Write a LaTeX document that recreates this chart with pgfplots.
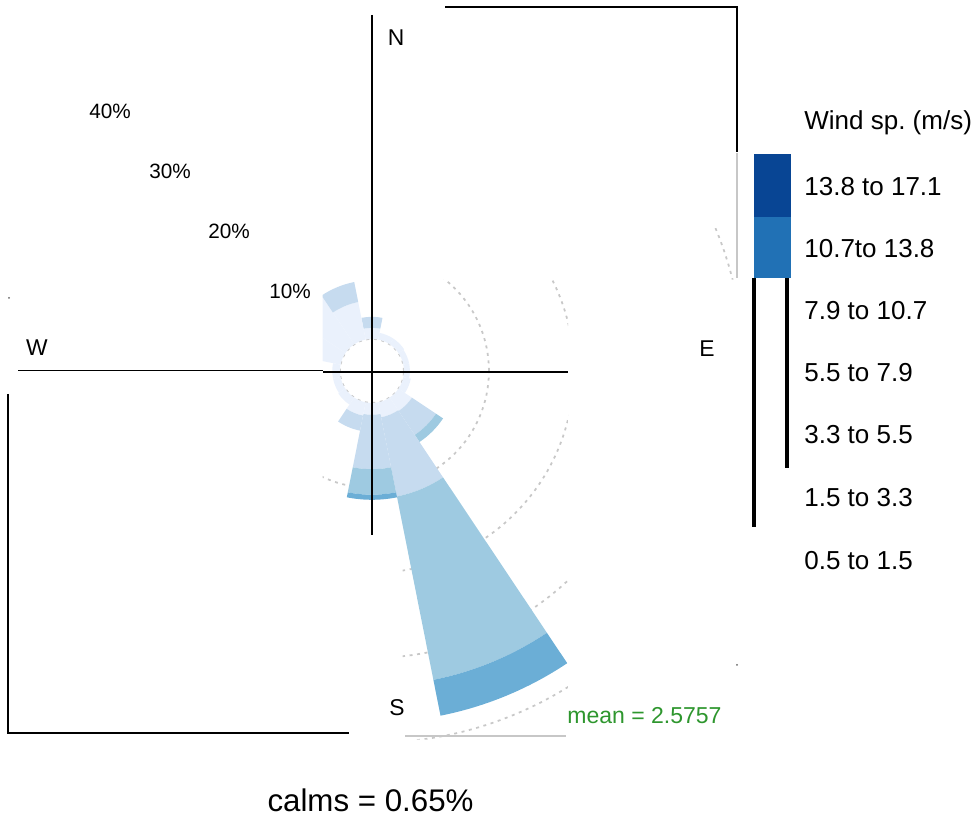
\documentclass[border=0pt]{standalone}
\usepackage{pgfplots}
\pgfplotsset{compat=1.18}
\usepackage{pgfplotstable}
\usepackage{fontspec}
\setmainfont{Liberation Sans}

\definecolor{ws1}{HTML}{EAF1FC}
\definecolor{ws2}{HTML}{C6DBEF}
\definecolor{ws3}{HTML}{9ECAE1}
\definecolor{ws4}{HTML}{6BAED6}
\definecolor{ws6}{HTML}{2171B5}
\definecolor{ws7}{HTML}{084594}
\definecolor{ringgray}{HTML}{C8C8C8}
\definecolor{meangreen}{HTML}{2E962E}

% cumulative frequency (%) per direction, speed classes 0.5-1.5 ... 5.5-7.9
\pgfplotstableread{
dir    s1   s2    s3    s4
0      1.3  2.6   2.6   2.6
22.5   0.8  0.8   0.8   0.8
45     0.8  0.8   0.8   0.8
67.5   0.7  0.7   0.7   0.7
90     0.7  0.7   0.7   0.7
112.5  0.9  0.9   0.9   0.9
135    1.9  5.3   6.3   6.3
157.5  1.8  11.3  33.3  37.6
180    1.4  7.8   10.8  11.4
202.5  1.6  3.4   3.4   3.4
225    1.0  1.0   1.0   1.0
247.5  0.9  0.9   0.9   0.9
270    0.9  0.9   0.9   0.9
292.5  4.0  4.0   4.0   4.0
315    7.5  7.5   7.5   7.5
337.5  4.5  6.9   6.9   6.9
}\rose

\def\hole{3.765}   % radius of the calm circle, in %
\def\ulen{0.17}    % cm per 1 %

\begin{document}
\frenchspacing
\begin{tikzpicture}

\begin{axis}[
    at={(7.44cm,8.92cm)}, anchor=origin,
    x=0.17cm, y=0.17cm,
    xmin=-45, xmax=45, ymin=-45, ymax=45,
    hide axis, clip=false]
\pgfplotsextra{%
  \begin{scope}
    \clip (axis cs:-5.8,10.75) rectangle (axis cs:23.1,-19.9)
          (axis cs:3.6,-19.7) rectangle (axis cs:23.1,-43.4)
          (axis cs:40.0,16.8) rectangle (axis cs:43.3,10.75);
    \foreach \p in {0,10,20,30,40}{
      \pgfmathsetmacro\rr{(\hole+\p)*\ulen}
      \draw[ringgray, line width=1pt, dash pattern=on 1.7pt off 2.6pt]
        (axis cs:0,0) circle[radius=\rr cm];
    }
    \pgfplotstablegetrowsof{\rose}
    \pgfmathtruncatemacro\nrows{\pgfplotsretval-1}
    \foreach \i in {0,...,\nrows}{
      \pgfplotstablegetelem{\i}{dir}\of\rose
      \pgfmathsetmacro\ta{90-\pgfplotsretval-11.25}
      \pgfmathsetmacro\tb{90-\pgfplotsretval+11.25}
      \xdef\prev{0}
      \foreach \col/\cls in {ws1/s1,ws2/s2,ws3/s3,ws4/s4}{
        \pgfplotstablegetelem{\i}{\cls}\of\rose
        \let\cur\pgfplotsretval
        \pgfmathtruncatemacro\ok{\cur>\prev ? 1 : 0}
        \ifnum\ok=1
          \pgfmathsetmacro\ra{(\hole+\prev)*\ulen}
          \pgfmathsetmacro\rb{(\hole+\cur)*\ulen}
          \pgfmathsetmacro\dr{\rb-\ra}
          \fill[\col] (axis cs:0,0) ++(\ta:\ra cm)
            arc[start angle=\ta, end angle=\tb, radius=\ra cm]
            -- ++(\tb:\dr cm)
            arc[start angle=\tb, end angle=\ta, radius=\rb cm] -- cycle;
        \fi
        \xdef\prev{\cur}
      }
    }
  \end{scope}
}
\end{axis}

\begin{scope}[x=0.02cm, y=-0.02cm, shift={(0cm,16.34cm)}]
\path[use as bounding box] (0,0) rectangle (978,817);

% frame lines
\draw[line width=1.2pt] (445,7) -- (737,7) -- (737,152);
\draw[black!22, line width=1.2pt] (737,153) -- (737,278);
\draw[line width=1.1pt] (372,15) -- (372,535);
\draw[line width=1.1pt] (18,370.5) -- (323,370.5);
\draw[line width=1.1pt] (323,372) -- (568,372);
\draw[line width=1.6pt] (8,394) -- (8,733) -- (349,733);
\draw[black!22, line width=1.2pt] (405,736) -- (566,736);
\draw[line width=1.8pt] (754,278) -- (754,527);
\draw[line width=1.8pt] (787,278) -- (787,468);
\fill[black!60] (9,298) circle[radius=1];
\fill[black!60] (737,665) circle[radius=1];

% direction and percentage labels
\begin{scope}[font=\fontsize{13}{15}\selectfont, inner sep=0pt]
  \node at (396,38) {N};
  \node at (37,348) {W};
  \node at (707,349) {E};
  \node at (397,708) {S};
\end{scope}
\begin{scope}[font=\fontsize{11.8}{14}\selectfont, inner sep=0pt]
  \node at (110,111) {40\%};
  \node at (170,171) {30\%};
  \node at (229,231) {20\%};
  \node at (290,291) {10\%};
\end{scope}

% legend
\fill[ws7] (754,154) rectangle (791,217);
\fill[ws6] (754,217) rectangle (791,278);
\begin{scope}[font=\fontsize{14.8}{17}\selectfont, inner sep=0pt]
  \node[anchor=west] at (804,123) {Wind sp. (m/s)};
  \node[anchor=west] at (804,187) {13.8 to 17.1};
  \node[anchor=west] at (804,249) {10.7to 13.8};
  \node[anchor=west] at (804,311) {7.9 to 10.7};
  \node[anchor=west] at (804,373) {5.5 to 7.9};
  \node[anchor=west] at (804,435) {3.3 to 5.5};
  \node[anchor=west] at (804,498) {1.5 to 3.3};
  \node[anchor=west] at (804,561) {0.5 to 1.5};
\end{scope}

\node[anchor=west, inner sep=0pt, text=meangreen, font=\fontsize{13.1}{15}\selectfont] at (567,716) {mean = 2.5757};
\node[inner sep=0pt, font=\fontsize{17.8}{20}\selectfont] at (370.5,800) {calms = 0.65\%};
\end{scope}
\end{tikzpicture}
\end{document}
